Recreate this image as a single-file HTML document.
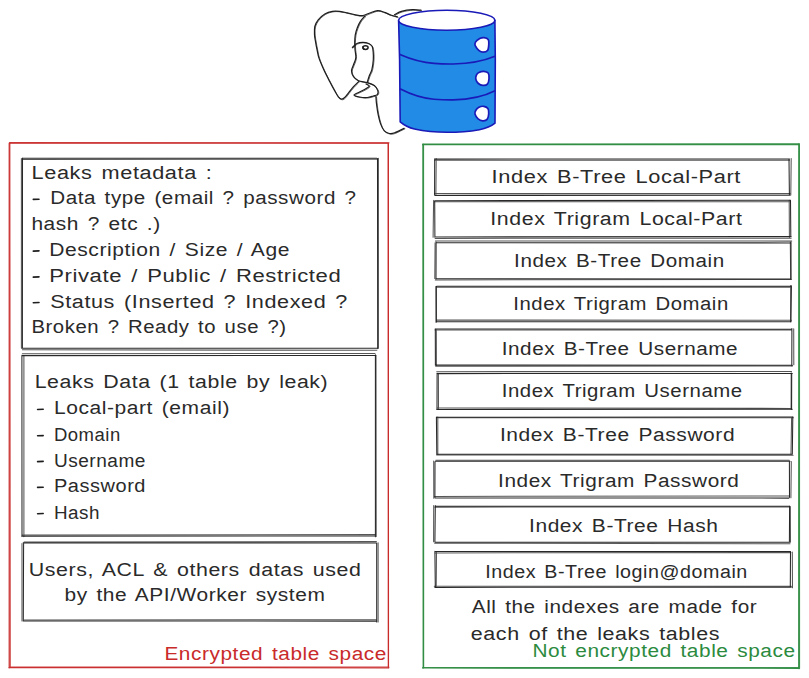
<!DOCTYPE html>
<html><head><meta charset="utf-8"><style>
html,body{margin:0;padding:0;background:#fff;width:809px;height:678px;overflow:hidden;}
svg{display:block;font-family:"Liberation Sans", sans-serif;}
</style></head><body>
<svg width="809" height="678" viewBox="0 0 809 678">
<rect width="809" height="678" fill="#fff"/>
<path d="M397.4,16.8 C396.4,16.6 393.6,16.0 391.5,15.3 C389.4,14.6 386.9,13.2 384.6,12.4 C382.3,11.6 380.1,10.6 377.6,10.7 C375.1,10.8 372.2,12.2 369.8,13.0 C367.4,13.8 365.4,15.2 363.0,15.5 C360.6,15.8 358.1,15.2 355.5,14.8 C352.9,14.4 349.7,13.4 347.1,12.8 C344.5,12.2 342.2,11.6 339.7,11.3 C337.2,11.1 334.8,10.9 332.3,11.3 C329.8,11.7 327.2,12.5 324.8,13.9 C322.4,15.3 319.9,17.7 318.2,19.8 C316.5,21.9 315.4,24.0 314.8,26.5 C314.2,29.0 314.4,32.1 314.5,34.7 C314.6,37.3 315.2,39.6 315.6,42.1 C316.0,44.6 316.4,46.9 317.0,49.5 C317.6,52.1 317.8,54.5 318.9,57.9 C320.0,61.3 322.0,65.8 323.8,69.8 C325.6,73.8 328.0,78.2 329.8,81.7 C331.6,85.2 333.1,88.0 334.5,90.5 C335.9,93.0 337.1,95.3 338.3,96.8 C339.5,98.2 340.5,99.1 341.6,99.2 C342.7,99.3 343.9,98.3 345.0,97.2 C346.1,96.1 347.1,94.6 348.5,92.8 C349.9,91.0 351.8,88.4 353.5,86.6 C355.2,84.8 357.7,82.5 358.5,81.7" stroke="#1e1e1e" stroke-width="1.2" fill="none" stroke-linecap="round" stroke-linejoin="round"/>
<path d="M398.1,17.4 C397.1,17.1 394.3,16.6 392.2,15.9 C390.1,15.1 387.6,13.7 385.3,13.0 C383.0,12.2 380.8,11.2 378.3,11.2 C375.8,11.3 372.9,12.8 370.5,13.6 C368.1,14.4 366.1,15.8 363.7,16.1 C361.3,16.4 358.8,15.8 356.2,15.4 C353.6,14.9 350.4,13.9 347.8,13.4 C345.2,12.8 342.9,12.1 340.4,11.9 C337.9,11.6 335.5,11.4 333.0,11.9 C330.5,12.3 327.9,13.0 325.5,14.5 C323.1,15.9 320.6,18.2 318.9,20.4 C317.2,22.5 316.1,24.6 315.5,27.1 C314.9,29.5 315.1,32.6 315.2,35.2 C315.3,37.9 315.9,40.2 316.3,42.6 C316.7,45.1 317.1,47.4 317.7,50.0 C318.2,52.7 318.5,55.1 319.6,58.4 C320.7,61.8 322.7,66.4 324.5,70.3 C326.3,74.3 328.7,78.8 330.5,82.2 C332.3,85.7 333.8,88.5 335.2,91.0 C336.6,93.6 337.8,95.9 339.0,97.3 C340.2,98.8 341.2,99.7 342.3,99.8 C343.4,99.8 344.6,98.8 345.7,97.8 C346.8,96.7 347.8,95.1 349.2,93.3 C350.6,91.6 352.5,89.0 354.2,87.1 C355.9,85.3 358.4,83.1 359.2,82.2" stroke="#1e1e1e" stroke-width="0.9" fill="none" opacity="0.75" stroke-linecap="round"/>
<path d="M394.5,14.8 C395.6,14.2 398.4,12.2 401.4,11.4 C404.4,10.6 409.0,9.9 412.3,9.7 C415.6,9.5 419.6,10.1 421.0,10.2" stroke="#1e1e1e" stroke-width="1.2" fill="none" stroke-linecap="round" stroke-linejoin="round"/>
<path d="M395.2,15.4 C396.3,14.8 399.1,12.8 402.1,12.0 C405.1,11.1 409.7,10.4 413.0,10.2 C416.3,10.1 420.2,10.7 421.7,10.8" stroke="#1e1e1e" stroke-width="0.9" fill="none" opacity="0.75" stroke-linecap="round"/>
<path d="M364.9,16.1 C364.1,17.0 361.7,19.4 360.4,21.3 C359.1,23.2 358.1,25.6 357.3,27.8 C356.5,30.0 355.7,32.3 355.3,34.7 C354.9,37.1 354.8,39.5 354.7,42.0 C354.6,44.5 354.8,46.9 355.0,49.5 C355.2,52.1 356.1,55.4 355.8,57.9 C355.6,60.4 354.2,62.6 353.5,64.8 C352.8,67.0 351.5,68.8 351.5,70.8 C351.5,72.8 352.3,75.0 353.5,76.7 C354.7,78.4 356.2,79.7 358.5,80.7 C360.8,81.7 364.8,81.8 367.4,82.6 C370.0,83.4 372.6,84.3 374.3,85.6 C376.0,86.9 377.3,89.1 377.8,90.6 C378.3,92.1 378.1,93.6 377.3,94.5 C376.6,95.4 375.0,95.5 373.3,96.0 C371.6,96.5 369.7,97.3 367.4,97.5 C365.1,97.7 361.7,97.4 359.5,97.0 C357.3,96.6 354.0,95.8 354.0,95.0 C354.0,94.2 357.6,93.0 359.5,92.0 C361.4,91.0 363.8,90.1 365.4,89.1 C367.0,88.1 369.2,86.9 369.3,86.1 C369.4,85.2 366.6,84.3 366.0,84.0" stroke="#1e1e1e" stroke-width="1.2" fill="none" stroke-linecap="round" stroke-linejoin="round"/>
<path d="M365.6,16.7 C364.8,17.5 362.4,19.9 361.1,21.9 C359.8,23.8 358.9,26.1 358.0,28.4 C357.1,30.6 356.4,32.9 356.0,35.2 C355.6,37.6 355.4,40.1 355.4,42.5 C355.3,45.0 355.5,47.4 355.7,50.0 C355.9,52.7 356.8,55.9 356.5,58.4 C356.2,61.0 354.9,63.2 354.2,65.3 C353.5,67.5 352.2,69.4 352.2,71.3 C352.2,73.3 353.0,75.6 354.2,77.2 C355.4,78.9 356.9,80.3 359.2,81.2 C361.5,82.2 365.5,82.3 368.1,83.1 C370.7,84.0 373.3,84.8 375.0,86.1 C376.7,87.5 378.0,89.7 378.5,91.1 C379.0,92.6 378.8,94.1 378.0,95.0 C377.2,96.0 375.6,96.0 374.0,96.5 C372.4,97.0 370.4,97.9 368.1,98.0 C365.8,98.2 362.4,98.0 360.2,97.5 C358.0,97.1 354.7,96.4 354.7,95.5 C354.7,94.7 358.3,93.5 360.2,92.5 C362.1,91.6 364.5,90.6 366.1,89.6 C367.7,88.7 369.9,87.5 370.0,86.6 C370.1,85.8 367.2,84.9 366.7,84.5" stroke="#1e1e1e" stroke-width="0.9" fill="none" opacity="0.75" stroke-linecap="round"/>
<path d="M352.4,47.5 C353.1,46.8 355.2,44.4 356.9,43.5 C358.6,42.6 360.8,42.3 362.8,42.3 C364.8,42.3 367.1,42.8 368.7,43.5 C370.3,44.2 371.4,45.0 372.2,46.5 C372.9,48.0 373.0,50.2 373.2,52.4 C373.4,54.6 373.5,57.0 373.3,59.9 C373.1,62.8 372.5,67.2 371.8,69.8 C371.1,72.4 370.0,73.7 369.3,75.7 C368.6,77.7 367.7,80.7 367.4,81.7" stroke="#1e1e1e" stroke-width="1.2" fill="none" stroke-linecap="round" stroke-linejoin="round"/>
<path d="M353.1,48.0 C353.8,47.4 355.9,44.9 357.6,44.0 C359.3,43.2 361.5,42.8 363.5,42.8 C365.5,42.8 367.8,43.3 369.4,44.0 C371.0,44.8 372.1,45.6 372.9,47.0 C373.6,48.5 373.7,50.7 373.9,52.9 C374.1,55.2 374.2,57.5 374.0,60.4 C373.8,63.3 373.2,67.7 372.5,70.3 C371.8,73.0 370.7,74.3 370.0,76.2 C369.3,78.2 368.4,81.2 368.1,82.2" stroke="#1e1e1e" stroke-width="0.9" fill="none" opacity="0.75" stroke-linecap="round"/>
<path d="M375.9,96.6 C376.0,97.9 376.2,101.8 376.6,104.7 C377.0,107.7 377.4,111.1 378.1,114.3 C378.8,117.5 379.6,121.1 380.6,123.9 C381.6,126.7 382.8,129.3 384.3,130.9 C385.8,132.5 387.8,133.2 389.5,133.5 C391.2,133.8 392.2,133.7 394.7,132.8 C397.1,131.9 402.6,129.1 404.2,128.3" stroke="#1e1e1e" stroke-width="1.2" fill="none" stroke-linecap="round" stroke-linejoin="round"/>
<path d="M376.6,97.1 C376.7,98.5 376.9,102.3 377.3,105.2 C377.7,108.2 378.1,111.6 378.8,114.8 C379.5,118.0 380.3,121.7 381.3,124.5 C382.3,127.2 383.5,129.9 385.0,131.5 C386.5,133.1 388.5,133.7 390.2,134.1 C391.9,134.4 392.9,134.2 395.4,133.4 C397.8,132.5 403.3,129.6 404.9,128.9" stroke="#1e1e1e" stroke-width="0.9" fill="none" opacity="0.75" stroke-linecap="round"/>
<ellipse cx="365.5" cy="47.6" rx="2.6" ry="1.8" fill="none" stroke="#1e1e1e" stroke-width="1.5"/>
<path d="M363.2,46.3 Q362.3,48.5 364.5,49.3" fill="none" stroke="#1e1e1e" stroke-width="1.4"/>
<path d="M398.6,20.2 L399.6,60 L400.2,121.9 C405,126 410,128 414.5,129 C425,131.3 436,132.3 446.9,132.3 C458,132.3 469,131.5 479.4,129.7 C486,128.5 491,126.5 495,123.2 L495.3,60 L494.9,20.2 Z" fill="#228be6" stroke="#1a1ab8" stroke-width="1.6" stroke-linejoin="round"/>
<ellipse cx="446.75" cy="20.25" rx="48.15" ry="10" fill="#fff" stroke="#1a1ab8" stroke-width="1.6"/>
<path d="M399.3,54.3 C410,59 422,62.6 434,63.4 C440,63.9 447,64.1 453.4,64 C470,63.6 485,60.5 494.9,56.3" fill="none" stroke="#1a1ab8" stroke-width="1.6"/>
<path d="M399.9,88.8 C410,94 422,98.4 433.9,99.2 C440,99.7 447,100 453.4,99.9 C470,99.5 485,96 495,90.8" fill="none" stroke="#1a1ab8" stroke-width="1.6"/>
<path d="M479.7,38.6 C481.1,37.9 482.6,37.5 484.0,37.6 C485.4,37.8 487.4,38.4 488.2,39.5 C489.0,40.6 488.9,42.2 488.8,44.1 C488.7,46.0 488.5,49.2 487.5,50.6 C486.5,52.0 484.4,52.2 483.0,52.2 C481.6,52.2 480.4,51.7 479.1,50.6 C477.8,49.5 475.8,47.1 475.2,45.7 C474.6,44.3 474.8,43.3 475.5,42.1 C476.2,40.9 478.3,39.4 479.7,38.6Z" fill="#fff" stroke="#1a1ab8" stroke-width="1.7"/>
<path d="M478.9,72.5 C480.1,71.9 482.3,71.2 483.9,71.3 C485.4,71.4 487.3,71.8 488.2,73.1 C489.1,74.3 489.1,77.0 489.0,78.8 C488.9,80.6 488.4,83.0 487.4,84.1 C486.4,85.2 484.4,85.4 482.9,85.3 C481.4,85.2 479.6,84.5 478.4,83.5 C477.2,82.5 476.1,80.5 475.8,79.1 C475.5,77.7 475.9,76.2 476.4,75.1 C476.9,74.0 477.6,73.1 478.9,72.5Z" fill="#fff" stroke="#1a1ab8" stroke-width="1.7"/>
<path d="M478.9,107.3 C480.2,106.6 482.2,106.1 483.7,106.3 C485.2,106.5 487.1,107.3 487.9,108.5 C488.7,109.7 488.8,111.9 488.7,113.7 C488.6,115.5 488.1,118.2 487.1,119.4 C486.1,120.6 484.2,120.9 482.7,120.8 C481.2,120.7 479.4,120.0 478.1,118.9 C476.8,117.8 475.4,115.4 475.0,114.0 C474.6,112.6 475.1,111.6 475.7,110.5 C476.3,109.4 477.6,108.0 478.9,107.3Z" fill="#fff" stroke="#1a1ab8" stroke-width="1.7"/>
<path d="M9.4,143.1 L388.4,143.2 M388.4,143.2 L388.4,667.0 M388.8,667.8 L8.9,667.4 M9.2,668.0 L9.2,143.2" stroke="#c92a2a" stroke-width="1.20" fill="none" opacity="0.95" stroke-linecap="round"/>
<path d="M9.6,142.7 L389.0,142.8 M388.2,143.6 L388.5,667.6 M388.9,667.0 L9.7,667.0 M10.2,667.3 L9.8,142.9" stroke="#c92a2a" stroke-width="1.20" fill="none" opacity="0.90" stroke-linecap="round"/>
<path d="M422.8,144.1 L799.1,143.9 M798.8,143.6 L798.7,668.6 M798.9,668.3 L422.5,668.0 M423.2,668.5 L422.9,143.8" stroke="#2b8a3e" stroke-width="1.20" fill="none" opacity="0.95" stroke-linecap="round"/>
<path d="M422.5,144.7 L798.8,144.6 M799.4,143.9 L799.5,668.6 M798.8,667.7 L422.8,667.5 M423.6,667.8 L423.5,144.3" stroke="#2b8a3e" stroke-width="1.20" fill="none" opacity="0.90" stroke-linecap="round"/>
<path d="M22.4,158.2 L376.8,158.3 M377.5,158.6 L377.7,348.6 M377.1,348.2 L22.0,348.2 M22.4,347.8 L22.5,158.0" stroke="#1e1e1e" stroke-width="1.05" fill="none" opacity="0.95" stroke-linecap="round"/>
<path d="M22.9,159.4 L377.4,159.2 M378.4,158.3 L378.4,348.3 M376.8,350.3 L22.4,349.8 M21.4,347.9 L21.4,158.4" stroke="#1e1e1e" stroke-width="1.05" fill="none" opacity="0.75" stroke-linecap="round"/>
<path d="M21.9,355.6 L375.8,355.5 M375.4,354.7 L375.4,536.8 M375.3,535.8 L21.6,536.1 M22.0,536.2 L21.9,355.2" stroke="#1e1e1e" stroke-width="1.05" fill="none" opacity="0.95" stroke-linecap="round"/>
<path d="M22.4,353.7 L375.0,353.5 M376.0,355.5 L376.2,536.5 M375.1,534.6 L22.4,535.0 M23.9,536.6 L23.9,355.5" stroke="#1e1e1e" stroke-width="1.05" fill="none" opacity="0.75" stroke-linecap="round"/>
<path d="M23.2,542.7 L376.1,543.0 M376.7,542.9 L376.7,621.9 M376.9,621.1 L23.5,621.0 M23.3,620.9 L23.6,543.5" stroke="#1e1e1e" stroke-width="1.05" fill="none" opacity="0.95" stroke-linecap="round"/>
<path d="M24.1,542.0 L376.4,541.6 M378.1,542.8 L378.1,621.9 M376.3,619.7 L24.3,619.9 M22.0,620.9 L22.0,543.5" stroke="#1e1e1e" stroke-width="1.05" fill="none" opacity="0.75" stroke-linecap="round"/>
<path d="M434.7,159.1 L789.6,159.0 M789.0,159.6 L789.4,195.0 M790.0,195.2 L434.9,195.4 M434.6,194.7 L434.7,158.7" stroke="#1e1e1e" stroke-width="1.05" fill="none" opacity="0.95" stroke-linecap="round"/>
<path d="M434.7,160.2 L789.5,160.2 M791.2,158.6 L790.8,195.0 M789.9,193.6 L434.6,193.6 M435.9,194.6 L436.2,158.5" stroke="#1e1e1e" stroke-width="1.05" fill="none" opacity="0.75" stroke-linecap="round"/>
<path d="M435.1,200.7 L790.2,200.3 M790.5,200.2 L790.8,236.1 M791.2,236.5 L434.6,237.0 M434.9,236.3 L434.7,200.7" stroke="#1e1e1e" stroke-width="1.05" fill="none" opacity="0.95" stroke-linecap="round"/>
<path d="M434.4,201.7 L790.6,201.7 M789.2,200.2 L789.4,237.0 M791.2,238.1 L435.1,238.4 M433.1,237.2 L433.6,200.4" stroke="#1e1e1e" stroke-width="1.05" fill="none" opacity="0.75" stroke-linecap="round"/>
<path d="M436.2,242.7 L791.1,242.9 M791.0,242.2 L791.0,279.3 M790.6,279.0 L435.7,278.7 M436.0,279.1 L436.1,242.1" stroke="#1e1e1e" stroke-width="1.05" fill="none" opacity="0.95" stroke-linecap="round"/>
<path d="M435.4,240.9 L791.7,241.1 M790.3,242.2 L790.7,279.1 M791.4,279.5 L435.3,279.9 M434.8,278.5 L435.1,242.8" stroke="#1e1e1e" stroke-width="1.05" fill="none" opacity="0.75" stroke-linecap="round"/>
<path d="M437.1,286.2 L791.2,286.2 M791.4,285.7 L790.9,321.8 M791.1,321.8 L436.3,321.7 M436.3,321.6 L436.3,286.3" stroke="#1e1e1e" stroke-width="1.05" fill="none" opacity="0.95" stroke-linecap="round"/>
<path d="M437.0,287.2 L791.0,287.1 M790.7,285.5 L790.6,321.7 M791.4,320.3 L436.6,320.1 M436.1,322.4 L435.9,286.4" stroke="#1e1e1e" stroke-width="1.05" fill="none" opacity="0.75" stroke-linecap="round"/>
<path d="M435.1,328.9 L791.5,329.3 M791.9,328.6 L791.8,365.7 M792.4,365.3 L435.3,365.1 M435.4,365.3 L435.3,328.9" stroke="#1e1e1e" stroke-width="1.05" fill="none" opacity="0.95" stroke-linecap="round"/>
<path d="M435.2,330.0 L791.5,329.9 M793.7,328.7 L793.8,364.8 M792.4,366.0 L435.7,366.2 M436.4,365.5 L436.3,329.5" stroke="#1e1e1e" stroke-width="1.05" fill="none" opacity="0.75" stroke-linecap="round"/>
<path d="M436.9,373.6 L792.3,373.4 M791.7,373.3 L791.6,409.4 M792.3,409.2 L436.7,409.4 M437.0,409.5 L437.1,373.3" stroke="#1e1e1e" stroke-width="1.05" fill="none" opacity="0.95" stroke-linecap="round"/>
<path d="M436.7,371.7 L791.5,371.4 M791.2,372.9 L791.1,408.9 M791.5,408.4 L437.3,407.9 M438.5,409.3 L438.4,373.6" stroke="#1e1e1e" stroke-width="1.05" fill="none" opacity="0.75" stroke-linecap="round"/>
<path d="M437.0,417.2 L793.1,417.0 M792.8,416.7 L792.3,454.2 M792.3,454.2 L436.6,454.2 M436.8,454.1 L436.4,417.0" stroke="#1e1e1e" stroke-width="1.05" fill="none" opacity="0.95" stroke-linecap="round"/>
<path d="M436.8,417.7 L793.2,417.8 M791.6,417.5 L791.0,454.0 M793.1,455.3 L436.7,454.9 M437.8,454.5 L437.8,417.1" stroke="#1e1e1e" stroke-width="1.05" fill="none" opacity="0.75" stroke-linecap="round"/>
<path d="M435.7,461.2 L790.0,461.3 M789.4,461.9 L789.5,497.2 M788.9,498.1 L435.2,498.0 M434.9,497.6 L435.0,461.8" stroke="#1e1e1e" stroke-width="1.05" fill="none" opacity="0.95" stroke-linecap="round"/>
<path d="M435.8,460.2 L789.3,460.3 M791.3,461.5 L790.9,497.7 M789.2,495.9 L434.8,496.4 M433.8,498.3 L433.7,461.1" stroke="#1e1e1e" stroke-width="1.05" fill="none" opacity="0.75" stroke-linecap="round"/>
<path d="M435.3,506.2 L789.7,506.3 M789.6,506.1 L789.4,541.8 M789.8,542.2 L435.1,542.3 M434.9,541.8 L435.3,505.6" stroke="#1e1e1e" stroke-width="1.05" fill="none" opacity="0.95" stroke-linecap="round"/>
<path d="M434.9,507.1 L789.1,506.9 M790.3,506.5 L790.5,542.0 M790.0,543.7 L434.7,543.2 M433.6,541.8 L433.7,505.5" stroke="#1e1e1e" stroke-width="1.05" fill="none" opacity="0.75" stroke-linecap="round"/>
<path d="M435.1,551.4 L790.6,551.5 M790.5,551.4 L790.3,587.0 M791.3,587.1 L434.8,587.4 M435.3,587.0 L434.9,551.3" stroke="#1e1e1e" stroke-width="1.05" fill="none" opacity="0.95" stroke-linecap="round"/>
<path d="M435.3,552.9 L790.8,552.6 M792.3,552.1 L792.5,587.7 M791.3,586.3 L434.3,586.3 M436.2,587.5 L436.5,551.9" stroke="#1e1e1e" stroke-width="1.05" fill="none" opacity="0.75" stroke-linecap="round"/>
<line x1="33.3" y1="199.4" x2="39.0" y2="199.2" stroke="#1e1e1e" stroke-width="1.6" stroke-linecap="round"/>
<line x1="33.3" y1="251.1" x2="39.0" y2="250.9" stroke="#1e1e1e" stroke-width="1.6" stroke-linecap="round"/>
<line x1="33.3" y1="277.1" x2="39.0" y2="276.9" stroke="#1e1e1e" stroke-width="1.6" stroke-linecap="round"/>
<line x1="33.3" y1="302.7" x2="39.0" y2="302.5" stroke="#1e1e1e" stroke-width="1.6" stroke-linecap="round"/>
<line x1="37.6" y1="409.5" x2="43.2" y2="409.3" stroke="#1e1e1e" stroke-width="1.6" stroke-linecap="round"/>
<line x1="37.6" y1="435.8" x2="43.2" y2="435.6" stroke="#1e1e1e" stroke-width="1.6" stroke-linecap="round"/>
<line x1="37.6" y1="461.6" x2="43.2" y2="461.4" stroke="#1e1e1e" stroke-width="1.6" stroke-linecap="round"/>
<line x1="37.6" y1="487.4" x2="43.2" y2="487.2" stroke="#1e1e1e" stroke-width="1.6" stroke-linecap="round"/>
<line x1="37.6" y1="513.7" x2="43.2" y2="513.5" stroke="#1e1e1e" stroke-width="1.6" stroke-linecap="round"/>
<text x="31.6" y="178.5" textLength="180.9" lengthAdjust="spacingAndGlyphs" fill="#2a2a2a" font-size="18" letter-spacing="0.5" word-spacing="2">Leaks metadata :</text>
<text x="50.2" y="204.3" textLength="306.4" lengthAdjust="spacingAndGlyphs" fill="#2a2a2a" font-size="18" letter-spacing="0.5" word-spacing="2">Data type (email ? password ?</text>
<text x="31.4" y="229.6" textLength="129.4" lengthAdjust="spacingAndGlyphs" fill="#2a2a2a" font-size="18" letter-spacing="0.5" word-spacing="2">hash ? etc .)</text>
<text x="49.2" y="256.0" textLength="240.8" lengthAdjust="spacingAndGlyphs" fill="#2a2a2a" font-size="18" letter-spacing="0.5" word-spacing="2">Description / Size / Age</text>
<text x="49.2" y="282.0" textLength="292.1" lengthAdjust="spacingAndGlyphs" fill="#2a2a2a" font-size="18" letter-spacing="0.5" word-spacing="2">Private / Public / Restricted</text>
<text x="50.2" y="307.6" textLength="297.7" lengthAdjust="spacingAndGlyphs" fill="#2a2a2a" font-size="18" letter-spacing="0.5" word-spacing="2">Status (Inserted ? Indexed ?</text>
<text x="31.4" y="333.4" textLength="255.3" lengthAdjust="spacingAndGlyphs" fill="#2a2a2a" font-size="18" letter-spacing="0.5" word-spacing="2">Broken ? Ready to use ?)</text>
<text x="34.7" y="388.3" textLength="293.6" lengthAdjust="spacingAndGlyphs" fill="#2a2a2a" font-size="18" letter-spacing="0.5" word-spacing="2">Leaks Data (1 table by leak)</text>
<text x="53.9" y="414.4" textLength="176.1" lengthAdjust="spacingAndGlyphs" fill="#2a2a2a" font-size="18" letter-spacing="0.5" word-spacing="2">Local-part (email)</text>
<text x="53.9" y="440.7" textLength="66.8" lengthAdjust="spacingAndGlyphs" fill="#2a2a2a" font-size="18" letter-spacing="0.5" word-spacing="2">Domain</text>
<text x="53.9" y="466.5" textLength="92.1" lengthAdjust="spacingAndGlyphs" fill="#2a2a2a" font-size="18" letter-spacing="0.5" word-spacing="2">Username</text>
<text x="53.9" y="492.3" textLength="92.1" lengthAdjust="spacingAndGlyphs" fill="#2a2a2a" font-size="18" letter-spacing="0.5" word-spacing="2">Password</text>
<text x="53.9" y="518.6" textLength="46.1" lengthAdjust="spacingAndGlyphs" fill="#2a2a2a" font-size="18" letter-spacing="0.5" word-spacing="2">Hash</text>
<text x="28.8" y="575.7" textLength="332.7" lengthAdjust="spacingAndGlyphs" fill="#2a2a2a" font-size="18" letter-spacing="0.5" word-spacing="2">Users, ACL &amp; others datas used</text>
<text x="64.5" y="601.0" textLength="260.9" lengthAdjust="spacingAndGlyphs" fill="#2a2a2a" font-size="18" letter-spacing="0.5" word-spacing="2">by the API/Worker system</text>
<text x="491.6" y="183.3" textLength="249.4" lengthAdjust="spacingAndGlyphs" fill="#2a2a2a" font-size="18" letter-spacing="0.5" word-spacing="2">Index B-Tree Local-Part</text>
<text x="490.3" y="224.8" textLength="252.2" lengthAdjust="spacingAndGlyphs" fill="#2a2a2a" font-size="18" letter-spacing="0.5" word-spacing="2">Index Trigram Local-Part</text>
<text x="514.1" y="267.3" textLength="210.7" lengthAdjust="spacingAndGlyphs" fill="#2a2a2a" font-size="18" letter-spacing="0.5" word-spacing="2">Index B-Tree Domain</text>
<text x="513.3" y="310.2" textLength="215.5" lengthAdjust="spacingAndGlyphs" fill="#2a2a2a" font-size="18" letter-spacing="0.5" word-spacing="2">Index Trigram Domain</text>
<text x="501.7" y="354.7" textLength="236.5" lengthAdjust="spacingAndGlyphs" fill="#2a2a2a" font-size="18" letter-spacing="0.5" word-spacing="2">Index B-Tree Username</text>
<text x="501.7" y="396.7" textLength="241.0" lengthAdjust="spacingAndGlyphs" fill="#2a2a2a" font-size="18" letter-spacing="0.5" word-spacing="2">Index Trigram Username</text>
<text x="499.9" y="441.4" textLength="235.3" lengthAdjust="spacingAndGlyphs" fill="#2a2a2a" font-size="18" letter-spacing="0.5" word-spacing="2">Index B-Tree Password</text>
<text x="498.1" y="487.1" textLength="241.3" lengthAdjust="spacingAndGlyphs" fill="#2a2a2a" font-size="18" letter-spacing="0.5" word-spacing="2">Index Trigram Password</text>
<text x="529.0" y="532.4" textLength="189.5" lengthAdjust="spacingAndGlyphs" fill="#2a2a2a" font-size="18" letter-spacing="0.5" word-spacing="2">Index B-Tree Hash</text>
<text x="485.3" y="577.6" textLength="262.5" lengthAdjust="spacingAndGlyphs" fill="#2a2a2a" font-size="18" letter-spacing="0.5" word-spacing="2">Index B-Tree login@domain</text>
<text x="471.8" y="613.4" textLength="285.4" lengthAdjust="spacingAndGlyphs" fill="#2a2a2a" font-size="18" letter-spacing="0.5" word-spacing="2">All the indexes are made for</text>
<text x="470.8" y="640.1" textLength="249.2" lengthAdjust="spacingAndGlyphs" fill="#2a2a2a" font-size="18" letter-spacing="0.5" word-spacing="2">each of the leaks tables</text>
<text x="164.4" y="659.8" textLength="222.6" lengthAdjust="spacingAndGlyphs" fill="#c92a2a" font-size="18" letter-spacing="0.5" word-spacing="2">Encrypted table space</text>
<text x="532.5" y="656.8" textLength="263.1" lengthAdjust="spacingAndGlyphs" fill="#2b8a3e" font-size="18" letter-spacing="0.5" word-spacing="2">Not encrypted table space</text>
</svg>
</body></html>
